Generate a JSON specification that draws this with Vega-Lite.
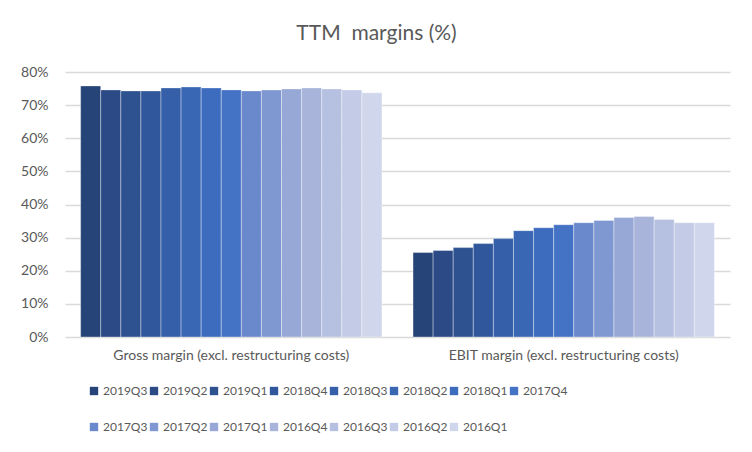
{
  "$schema": "https://vega.github.io/schema/vega-lite/v6.json",
  "width": 665,
  "height": 265,
  "autosize": {"type": "none"},
  "padding": {"left": 65, "top": 72, "right": 22, "bottom": 115},
  "background": "white",
  "title": {
    "text": "TTM\u00a0 margins (%)",
    "font": "Lato",
    "fontSize": 21,
    "fontWeight": "normal",
    "color": "#595959",
    "anchor": "middle",
    "dx": -21,
    "offset": 21
  },
  "data": {
    "values": [
      {"category": "Gross margin (excl. restructuring costs)", "quarter": "2019Q3", "value": 0.758},
      {"category": "Gross margin (excl. restructuring costs)", "quarter": "2019Q2", "value": 0.746},
      {"category": "Gross margin (excl. restructuring costs)", "quarter": "2019Q1", "value": 0.743},
      {"category": "Gross margin (excl. restructuring costs)", "quarter": "2018Q4", "value": 0.743},
      {"category": "Gross margin (excl. restructuring costs)", "quarter": "2018Q3", "value": 0.752},
      {"category": "Gross margin (excl. restructuring costs)", "quarter": "2018Q2", "value": 0.755},
      {"category": "Gross margin (excl. restructuring costs)", "quarter": "2018Q1", "value": 0.752},
      {"category": "Gross margin (excl. restructuring costs)", "quarter": "2017Q4", "value": 0.746},
      {"category": "Gross margin (excl. restructuring costs)", "quarter": "2017Q3", "value": 0.743},
      {"category": "Gross margin (excl. restructuring costs)", "quarter": "2017Q2", "value": 0.746},
      {"category": "Gross margin (excl. restructuring costs)", "quarter": "2017Q1", "value": 0.749},
      {"category": "Gross margin (excl. restructuring costs)", "quarter": "2016Q4", "value": 0.752},
      {"category": "Gross margin (excl. restructuring costs)", "quarter": "2016Q3", "value": 0.749},
      {"category": "Gross margin (excl. restructuring costs)", "quarter": "2016Q2", "value": 0.746},
      {"category": "Gross margin (excl. restructuring costs)", "quarter": "2016Q1", "value": 0.737},
      {"category": "EBIT margin (excl. restructuring costs)", "quarter": "2019Q3", "value": 0.255},
      {"category": "EBIT margin (excl. restructuring costs)", "quarter": "2019Q2", "value": 0.261},
      {"category": "EBIT margin (excl. restructuring costs)", "quarter": "2019Q1", "value": 0.270},
      {"category": "EBIT margin (excl. restructuring costs)", "quarter": "2018Q4", "value": 0.282},
      {"category": "EBIT margin (excl. restructuring costs)", "quarter": "2018Q3", "value": 0.297},
      {"category": "EBIT margin (excl. restructuring costs)", "quarter": "2018Q2", "value": 0.321},
      {"category": "EBIT margin (excl. restructuring costs)", "quarter": "2018Q1", "value": 0.330},
      {"category": "EBIT margin (excl. restructuring costs)", "quarter": "2017Q4", "value": 0.339},
      {"category": "EBIT margin (excl. restructuring costs)", "quarter": "2017Q3", "value": 0.345},
      {"category": "EBIT margin (excl. restructuring costs)", "quarter": "2017Q2", "value": 0.352},
      {"category": "EBIT margin (excl. restructuring costs)", "quarter": "2017Q1", "value": 0.361},
      {"category": "EBIT margin (excl. restructuring costs)", "quarter": "2016Q4", "value": 0.364},
      {"category": "EBIT margin (excl. restructuring costs)", "quarter": "2016Q3", "value": 0.355},
      {"category": "EBIT margin (excl. restructuring costs)", "quarter": "2016Q2", "value": 0.345},
      {"category": "EBIT margin (excl. restructuring costs)", "quarter": "2016Q1", "value": 0.345}
    ]
  },
  "mark": {"type": "bar", "stroke": "#ffffff", "strokeWidth": 0.8, "strokeOpacity": 0.45},
  "encoding": {
    "x": {
      "field": "category",
      "type": "nominal",
      "sort": ["Gross margin (excl. restructuring costs)", "EBIT margin (excl. restructuring costs)"],
      "scale": {"paddingInner": 0.0934, "paddingOuter": 0.047},
      "axis": {
        "title": null,
        "labelAngle": 0,
        "ticks": false,
        "domain": false,
        "labelLimit": 0,
        "labelFont": "Lato",
        "labelFontSize": 14,
        "labelColor": "#595959",
        "labelPadding": 11
      }
    },
    "xOffset": {
      "field": "quarter",
      "type": "nominal",
      "sort": ["2019Q3","2019Q2","2019Q1","2018Q4","2018Q3","2018Q2","2018Q1","2017Q4","2017Q3","2017Q2","2017Q1","2016Q4","2016Q3","2016Q2","2016Q1"],
      "scale": {"paddingInner": 0, "paddingOuter": 0}
    },
    "y": {
      "field": "value",
      "type": "quantitative",
      "scale": {"domain": [0, 0.8]},
      "axis": {
        "title": null,
        "format": ".0%",
        "values": [0, 0.1, 0.2, 0.3, 0.4, 0.5, 0.6, 0.7, 0.8],
        "labelOverlap": false,
        "ticks": false,
        "domain": false,
        "grid": true,
        "gridColor": "#d9d9d9",
        "gridWidth": 1.3,
        "labelFont": "Lato",
        "labelFontSize": 14,
        "labelColor": "#595959",
        "labelPadding": 17
      }
    },
    "color": {
      "field": "quarter",
      "type": "nominal",
      "scale": {
        "domain": ["2019Q3","2019Q2","2019Q1","2018Q4","2018Q3","2018Q2","2018Q1","2017Q4","2017Q3","2017Q2","2017Q1","2016Q4","2016Q3","2016Q2","2016Q1"],
        "range": ["#264478","#2b4a86","#2e5290","#30579b","#355fa8","#3a67b4","#3d6cbe","#4472c4","#6a89cc","#8098d1","#97a8d6","#a8b4da","#b6c0e0","#c3cbe6","#d0d6eb"]
      },
      "legend": {
        "title": null,
        "orient": "none",
        "legendX": 23,
        "legendY": 313,
        "direction": "horizontal",
        "columns": 8,
        "columnPadding": 0,
        "rowPadding": 24,
        "symbolType": "square",
        "symbolSize": 70,
        "symbolStrokeWidth": 0,
        "labelOffset": 3,
        "labelFont": "Lato",
        "labelFontSize": 12,
        "labelColor": "#595959",
        "gridAlign": "all"
      }
    }
  },
  "config": {"view": {"stroke": null}}
}
